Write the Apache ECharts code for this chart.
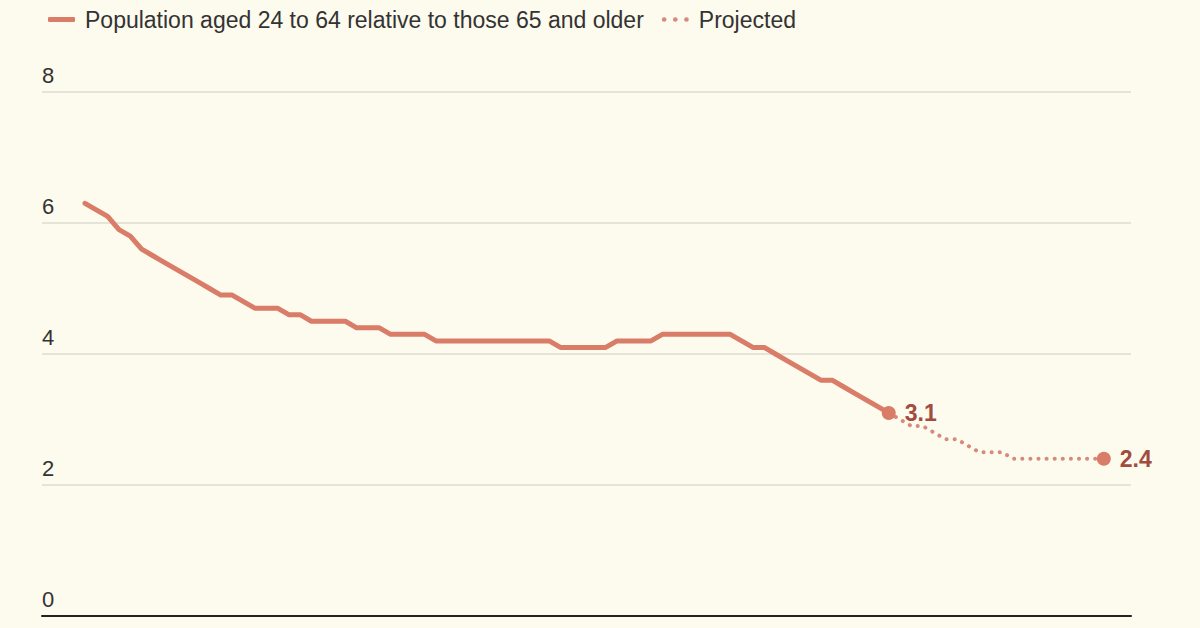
<!DOCTYPE html>
<html>
<head>
<meta charset="utf-8">
<script src="https://cdn.jsdelivr.net/npm/echarts@6/dist/echarts.min.js"></script>
<style>
	html, body { margin: 0; padding: 0; background: #fdfaee; }
	#grafica { width: 1200px; height: 628px; }
</style>
</head>
<body>
<div id="grafica"></div>
<script>
// Datos (ratio de población 24-64 frente a 65+)
const actualYears = [];
for (let y = 1950; y <= 2021; y++) actualYears.push(y);
const actualValues = [
	6.3, 6.2, 6.1, 5.9, 5.8, 5.6, 5.5, 5.4, 5.3, 5.2,
	5.1, 5.0, 4.9, 4.9, 4.8, 4.7, 4.7, 4.7, 4.6, 4.6,
	4.5, 4.5, 4.5, 4.5, 4.4, 4.4, 4.4, 4.3, 4.3, 4.3,
	4.3, 4.2, 4.2, 4.2, 4.2, 4.2, 4.2, 4.2, 4.2, 4.2,
	4.2, 4.2, 4.1, 4.1, 4.1, 4.1, 4.1, 4.2, 4.2, 4.2,
	4.2, 4.3, 4.3, 4.3, 4.3, 4.3, 4.3, 4.3, 4.2, 4.1,
	4.1, 4.0, 3.9, 3.8, 3.7, 3.6, 3.6, 3.5, 3.4, 3.3,
	3.2, 3.1,
];

const projectedYears = [];
for (let y = 2021; y <= 2040; y++) projectedYears.push(y);
const projectedValues = [
	3.1, 3.0, 2.9, 2.9, 2.8, 2.7, 2.7, 2.6, 2.5, 2.5,
	2.5, 2.4, 2.4, 2.4, 2.4, 2.4, 2.4, 2.4, 2.4, 2.4,
];

const yTicks = [0, 2, 4, 6, 8];

const SERIE_NAME = 'Population aged 24 to 64 relative to those 65 and older';
const PROJ_NAME = 'Projected';
const LINE_COLOR = '#d97c68';
const PROJ_COLOR = '#d68a7c';
const FONT = 'Liberation Sans, Arial, sans-serif';

const dom = document.getElementById('grafica');
const myChart = echarts.init(dom, null, { renderer: 'svg' });

const actualData = actualYears.map((y, i) => [y, actualValues[i]]);
const projectedData = projectedYears.map((y, i) => [y, projectedValues[i]]);
const endPoints = [actualData[actualData.length - 1], projectedData[projectedData.length - 1]];

// tres puntos para la leyenda de la proyección
const dotsIcon =
	'path://M0,2a2,2 0 1,0 4,0a2,2 0 1,0 -4,0 M9.5,2a2,2 0 1,0 4,0a2,2 0 1,0 -4,0 M19,2a2,2 0 1,0 4,0a2,2 0 1,0 -4,0';

const option = {
	backgroundColor: '#fdfaee',
	animation: false,
	legend: {
		left: 43,
		top: 3,
		itemWidth: 27,
		itemHeight: 5,
		itemGap: 18,
		textStyle: { fontFamily: FONT, fontSize: 23, color: '#333', padding: [0, 0, 0, 5] },
		data: [
			{ name: SERIE_NAME, icon: 'roundRect' },
			{ name: PROJ_NAME, icon: dotsIcon },
		],
	},
	grid: { left: 42, right: 69, top: 92, bottom: 12 },
	xAxis: {
		type: 'value',
		min: 1946.2,
		max: 2042.4,
		axisLabel: { show: false },
		axisTick: { show: false },
		splitLine: { show: false },
		axisLine: { show: true, lineStyle: { color: '#222', width: 2 } },
	},
	yAxis: {
		type: 'value',
		min: yTicks[0],
		max: yTicks[yTicks.length - 1],
		interval: 2,
		axisLine: { show: false },
		axisTick: { show: false },
		axisLabel: {
			inside: true,
			margin: 0,
			verticalAlign: 'bottom',
			fontFamily: FONT,
			fontSize: 22,
			lineHeight: 22,
			color: '#333',
			padding: [0, 0, 6, 0],
		},
		splitLine: { lineStyle: { color: '#dedbd2', width: 1.5 } },
	},
	series: [
		{
			name: SERIE_NAME,
			type: 'line',
			data: actualData,
			showSymbol: false,
			color: LINE_COLOR,
			lineStyle: { width: 5, color: LINE_COLOR, cap: 'round', join: 'round' },
			z: 3,
		},
		{
			name: PROJ_NAME,
			type: 'line',
			data: projectedData,
			showSymbol: false,
			color: PROJ_COLOR,
			lineStyle: { width: 4, color: PROJ_COLOR, type: [0.1, 8], cap: 'round' },
			z: 2,
		},
		{
			name: 'ends',
			type: 'scatter',
			data: endPoints,
			symbolSize: 14,
			itemStyle: { color: LINE_COLOR, opacity: 1 },
			label: {
				show: true,
				position: 'right',
				distance: 9,
				formatter: (p) => p.value[1].toFixed(1),
				fontFamily: FONT,
				fontWeight: 'bold',
				fontSize: 23,
				color: '#a14c3f',
			},
			z: 4,
		},
	],
};

myChart.setOption(option);
</script>
</body>
</html>
